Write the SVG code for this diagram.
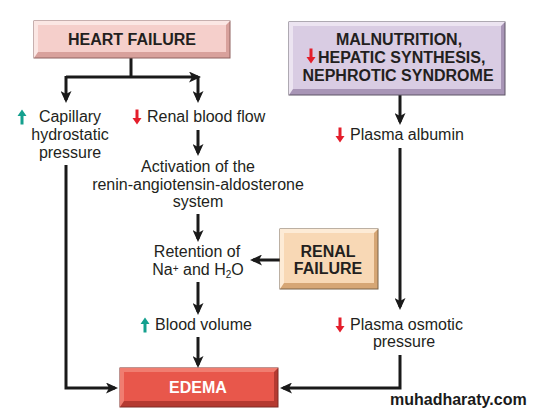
<svg xmlns="http://www.w3.org/2000/svg" width="539" height="416" viewBox="0 0 539 416">
<defs>
<style>
.t{font-family:"Liberation Sans",Arial,sans-serif;font-size:16px;fill:#231f20}
.b{font-family:"Liberation Sans",Arial,sans-serif;font-size:16px;font-weight:bold;fill:#231f20}
.w{fill:#ffffff}
.c{text-anchor:middle}
.ln{fill:none;stroke:#1a1a1a;stroke-width:3;stroke-linejoin:miter}
.ar{marker-end:url(#ah)}
.up{fill:#14a08e}
.dn{fill:#e41e2b}
.bd{stroke-width:1}
</style>
<marker id="ah" markerUnits="userSpaceOnUse" markerWidth="12" markerHeight="11" refX="9" refY="5.5" orient="auto">
<path d="M0,0 L12,5.5 L0,11 L3,5.5 Z" fill="#1a1a1a"/>
</marker>
<path id="upA" d="M0,-7.5 L4.5,-1 L1.5,-1 L1.5,7.5 L-1.5,7.5 L-1.5,-1 L-4.5,-1 Z"/>
<path id="dnA" d="M0,7.5 L4.5,1 L1.5,1 L1.5,-7.5 L-1.5,-7.5 L-1.5,1 L-4.5,1 Z"/>
</defs>
<rect width="539" height="416" fill="#ffffff"/>

<g id="connectors">
<path class="ln" d="M131,58 V77"/>
<path class="ln ar" d="M66,77 H198"/>
<path class="ln ar" d="M66,76 V100"/>
<path class="ln ar" d="M198,76 V100"/>
<path class="ln ar" d="M198,130 V153"/>
<path class="ln ar" d="M198,214 V239"/>
<path class="ln ar" d="M198,282 V312"/>
<path class="ln ar" d="M198,337 V365"/>
<path class="ln ar" d="M66,165 V388 H115"/>
<path class="ln ar" d="M280,260 H253"/>
<path class="ln ar" d="M400,95 V122"/>
<path class="ln ar" d="M400,148 V307"/>
<path class="ln ar" d="M400,355 V388 H283"/>
</g>

<g id="heart-failure">
<rect x="34" y="21" width="196" height="37" fill="#d8a19c" stroke="#8f6360" class="bd"/>
<polygon points="34,21 230,21 226,25 38,25 38,52 34,58" fill="#fbe7e4"/>
<rect x="38" y="25" width="188" height="27" fill="#f5cfcb"/>
<text class="b c" x="132" y="45">HEART FAILURE</text>
</g>

<g id="malnutrition">
<rect x="289" y="22" width="216" height="73" fill="#a895b6" stroke="#5f5566" class="bd"/>
<polygon points="289,22 505,22 501,26 293,26 293,89 289,95" fill="#ece4f1"/>
<rect x="293" y="26" width="208" height="63" fill="#d9cce3"/>
<text class="b c" x="399" y="45">MALNUTRITION,</text>
<use href="#dnA" class="dn" x="311" y="56"/>
<text class="b" x="318" y="63">HEPATIC SYNTHESIS,</text>
<text class="b c" x="398" y="81">NEPHROTIC SYNDROME</text>
</g>

<g id="capillary">
<use href="#upA" class="up" x="22" y="117"/>
<text class="t c" x="70" y="122">Capillary</text>
<text class="t c" x="70" y="140">hydrostatic</text>
<text class="t c" x="70" y="158">pressure</text>
</g>

<g id="renal-blood-flow">
<use href="#dnA" class="dn" x="137" y="117"/>
<text class="t" x="147" y="122">Renal blood flow</text>
</g>

<g id="raas">
<text class="t c" x="198" y="172">Activation of the</text>
<text class="t c" x="198" y="190">renin-angiotensin-aldosterone</text>
<text class="t c" x="198" y="207">system</text>
</g>

<g id="retention">
<text class="t c" x="197" y="257">Retention of</text>
<text class="t c" x="198" y="275">Na<tspan font-size="10" baseline-shift="35%">+</tspan> and H<tspan font-size="10" baseline-shift="-25%">2</tspan>O</text>
</g>

<g id="renal-failure">
<rect x="280" y="229" width="98" height="60" fill="#d6a675" stroke="#7a6248" class="bd"/>
<polygon points="280,229 378,229 374,233 284,233 284,283 280,289" fill="#fdebd6"/>
<rect x="284" y="233" width="90" height="50" fill="#f8d8b5"/>
<text class="b c" x="328" y="257">RENAL</text>
<text class="b c" x="328" y="274">FAILURE</text>
</g>

<g id="blood-volume">
<use href="#upA" class="up" x="145" y="325"/>
<text class="t" x="155" y="330">Blood volume</text>
</g>

<g id="plasma-albumin">
<use href="#dnA" class="dn" x="340" y="135"/>
<text class="t" x="350" y="140">Plasma albumin</text>
</g>

<g id="plasma-osmotic">
<use href="#dnA" class="dn" x="340" y="325"/>
<text class="t" x="350" y="330">Plasma osmotic</text>
<text class="t c" x="404" y="347">pressure</text>
</g>

<g id="edema">
<rect x="120" y="368" width="158" height="39" fill="#b53a31" stroke="#7f2a24" class="bd"/>
<polygon points="120,368 278,368 274,372 124,372 124,401 120,407" fill="#f07d70"/>
<rect x="124" y="372" width="150" height="29" fill="#e8574b"/>
<text class="b c w" x="198" y="393">EDEMA</text>
</g>

<text x="390" y="405" style="font-family:'Liberation Sans',Arial,sans-serif;font-size:16px;font-weight:bold;fill:#1a1a1a">muhadharaty.com</text>
</svg>
